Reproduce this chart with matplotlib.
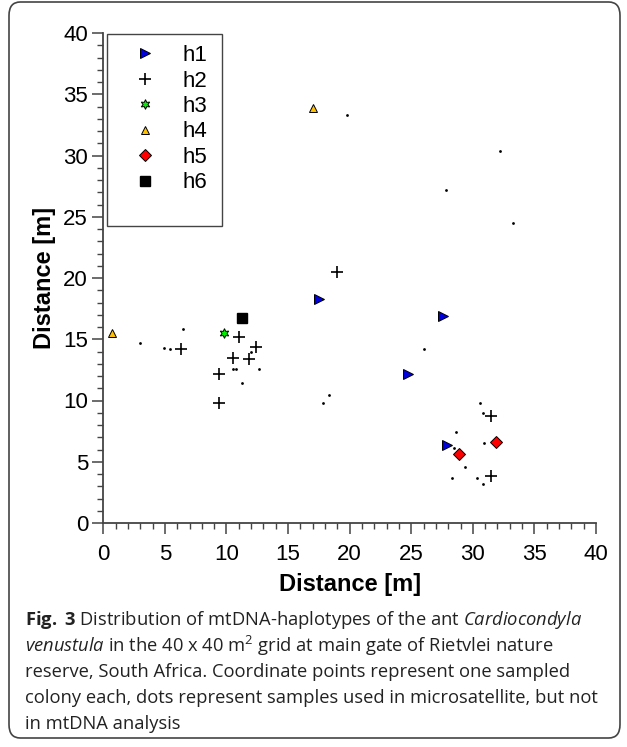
import matplotlib
matplotlib.use("Agg")
import matplotlib.pyplot as plt
from matplotlib.patches import FancyBboxPatch, Rectangle
from matplotlib.ticker import MultipleLocator

plt.rcParams['font.family'] = ['Liberation Sans', 'DejaVu Sans']
plt.rcParams['mathtext.fontset'] = 'custom'
plt.rcParams['mathtext.rm'] = 'Open Sans'
plt.rcParams['mathtext.it'] = 'Open Sans:italic'
plt.rcParams['mathtext.bf'] = 'Open Sans:bold'

# ---- data ----
h1_x = [17.5, 27.6, 24.7, 27.9]
h1_y = [18.3, 16.9, 12.2, 6.4]
h2_x = [6.3, 11.0, 12.4, 10.5, 11.8, 9.4, 9.4, 19.0, 31.5, 31.5]
h2_y = [14.2, 15.2, 14.4, 13.5, 13.4, 12.2, 9.8, 20.5, 8.7, 3.8]
h3_x = [9.8]
h3_y = [15.5]
h4_x = [0.7, 17.05]
h4_y = [15.5, 33.9]
h5_x = [31.9, 28.9]
h5_y = [6.6, 5.6]
h6_x = [11.25]
h6_y = [16.7]
dot_x = [6.5, 3.0, 4.9, 5.4, 12.0, 10.5, 10.8, 12.6, 11.3, 18.3, 17.8, 26.0,
         30.6, 30.85, 28.6, 30.9, 28.5, 29.4, 28.3, 30.3, 30.8, 19.8, 32.2,
         27.8, 33.3]
dot_y = [15.8, 14.7, 14.3, 14.2, 14.0, 12.6, 12.6, 12.6, 11.45, 10.45, 9.8, 14.2,
         9.8, 9.0, 7.45, 6.5, 6.15, 4.6, 3.7, 3.7, 3.2, 33.3, 30.4,
         27.2, 24.5]
labels = ["h1", "h2", "h3", "h4", "h5", "h6"]
x_ticks = [0, 5, 10, 15, 20, 25, 30, 35, 40]
y_ticks = [0, 5, 10, 15, 20, 25, 30, 35, 40]

W, H = 627, 747
fig = plt.figure(figsize=(W / 100, H / 100), dpi=100)

# outer rounded frame
frame = FancyBboxPatch((9 / W, 9 / H), (620 - 9) / W, (745 - 9) / H,
                       boxstyle="round,pad=0,rounding_size=0.018",
                       transform=fig.transFigure, fill=False,
                       edgecolor="#444444", linewidth=1.2)
fig.patches.append(frame)

ax_l, ax_r, ax_t, ax_b = 103.3, 596, 33, 523
ax = fig.add_axes([ax_l / W, 1 - ax_b / H, (ax_r - ax_l) / W, (ax_b - ax_t) / H])

ax.plot(dot_x, dot_y, linestyle='none', marker='o', ms=2.0, color='black', mew=0)
ax.plot(h1_x, h1_y, linestyle='none', marker='>', ms=6.5, mfc='#0000dd', mec='black', mew=0.7, label=labels[0])
ax.plot(h2_x, h2_y, linestyle='none', marker='+', ms=9, color='black', mew=1.2, label=labels[1])
ax.plot(h3_x, h3_y, linestyle='none', marker=(6, 1, 0), ms=7, mfc='#00ee00', mec='black', mew=0.7, label=labels[2])
ax.plot(h4_x, h4_y, linestyle='none', marker='^', ms=6.2, mfc='#ffc000', mec='black', mew=0.7, label=labels[3])
ax.plot(h5_x, h5_y, linestyle='none', marker='D', ms=5.8, mfc='#ff0000', mec='black', mew=0.7, label=labels[4])
ax.plot(h6_x, h6_y, linestyle='none', marker='s', ms=7, color='black', label=labels[5])

ax.set_xlim(0, 40)
ax.set_ylim(0, 40)
ax.set_xticks(x_ticks)
ax.set_yticks(y_ticks)
ax.xaxis.set_minor_locator(MultipleLocator(1))
ax.yaxis.set_minor_locator(MultipleLocator(1))
for s in ['top', 'right']:
    ax.spines[s].set_visible(False)
for s in ['left', 'bottom']:
    ax.spines[s].set_linewidth(1.3)
    ax.spines[s].set_color('#444444')
ax.tick_params(which='major', direction='out', length=8, width=1.1, color='#444444',
               labelsize=16, labelcolor='black')
ax.tick_params(which='minor', direction='out', length=4.5, width=1.0, color='#444444')
ax.tick_params(axis='x', which='major', pad=7)
ax.tick_params(axis='y', which='major', pad=3)

ax.set_xlabel("Distance [m]", fontsize=17, fontweight='bold', labelpad=6)
ax.set_ylabel("Distance [m]", fontsize=17, fontweight='bold', labelpad=5)

# legend frame
lx0, lx1, ly0, ly1 = 107, 222, 34, 226
aw, ah = ax_r - ax_l, ax_b - ax_t
rect = Rectangle(((lx0 - ax_l) / aw, (ax_b - ly1) / ah), (lx1 - lx0) / aw, (ly1 - ly0) / ah,
                 transform=ax.transAxes, fill=False, edgecolor='#444444', linewidth=1.0,
                 clip_on=False, zorder=5)
ax.add_patch(rect)
leg = ax.legend(loc='upper left', bbox_to_anchor=((lx0 - ax_l) / aw, (ax_b - ly0) / ah),
                borderaxespad=0, frameon=False, fontsize=16, numpoints=1,
                handlelength=2.41, handletextpad=0.5, labelspacing=0.2, borderpad=0.5)

# caption
cap_font = ['Open Sans', 'DejaVu Sans']
cap_lines = [
    r"$\mathbf{Fig.}$ $\mathbf{3}$ Distribution of mtDNA-haplotypes of the ant $\mathit{Cardiocondyla}$",
    r"$\mathit{venustula}$ in the 40 x 40 m$^2$ grid at main gate of Rietvlei nature",
    "reserve, South Africa. Coordinate points represent one sampled",
    "colony each, dots represent samples used in microsatellite, but not",
    "in mtDNA analysis",
]
cap_y = [620, 646, 672, 698, 724]
for t, yy in zip(cap_lines, cap_y):
    fig.text(25 / W, 1 - yy / H, t, family=cap_font, fontsize=13.2, color='#222222',
             ha='left', va='center')

fig.savefig("out.png", dpi=100)
